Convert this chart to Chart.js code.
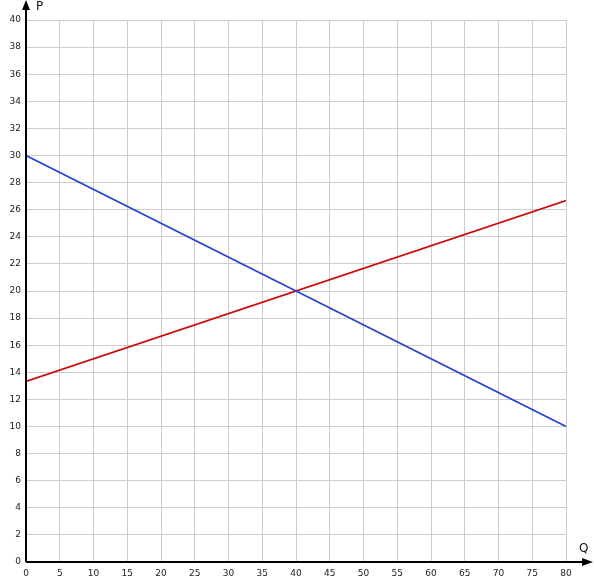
<!DOCTYPE html>
<html>
<head>
<meta charset="UTF-8">
<title>P-Q</title>
<script src="https://cdn.jsdelivr.net/npm/chart.js"></script>
<style>
    body { margin: 0; background: #fff; }
</style>
</head>
<body>
<canvas id="chart" width="594" height="585"></canvas>
<script>
    // endpoints of both lines, Q on x
    const qValues = [0, 80];
    const demandP = [30, 10];
    const supplyP = [13.33, 26.67];
    const xTicks = { min: 0, max: 80, step: 5 };
    const yTicks = { min: 0, max: 40, step: 2 };

    function pts(ys)
    {
        return qValues.map((q, i) => ({ x: q, y: ys[i] }));
    }

    const axesArrows = {
        id: 'axesArrows',
        afterDraw(chart)
        {
            const ctx = chart.ctx;
            const a = chart.chartArea;
            const x0 = a.left, y0 = a.bottom;
            ctx.save();
            ctx.strokeStyle = '#000';
            ctx.fillStyle = '#000';
            ctx.lineWidth = 2;
            ctx.beginPath();
            ctx.moveTo(x0, y0);
            ctx.lineTo(x0, 6);
            ctx.moveTo(x0, y0);
            ctx.lineTo(586, y0);
            ctx.stroke();
            // arrow heads
            ctx.beginPath();
            ctx.moveTo(x0, 0);
            ctx.lineTo(x0 - 4, 10);
            ctx.lineTo(x0 + 4, 10);
            ctx.closePath();
            ctx.fill();
            ctx.beginPath();
            ctx.moveTo(593, y0);
            ctx.lineTo(582, y0 - 4);
            ctx.lineTo(582, y0 + 4);
            ctx.closePath();
            ctx.fill();
            ctx.font = '12px "DejaVu Sans"';
            ctx.fillStyle = '#111';
            ctx.textBaseline = 'middle';
            ctx.fillText('P', 36, 7);
            ctx.fillText('Q', 579, 549);
            ctx.restore();
        }
    };

    const tickFont = { family: '"DejaVu Sans"', size: 9 };

    new Chart(document.getElementById('chart').getContext('2d'),
    {
        type: 'line',
        data:
        {
            datasets:
            [
                { data: pts(demandP), borderColor: '#2446d0', borderWidth: 1.6, pointRadius: 0 },
                { data: pts(supplyP), borderColor: '#cc0a0a', borderWidth: 1.6, pointRadius: 0 }
            ]
        },
        options:
        {
            responsive: false,
            animation: false,
            layout: { padding: { left: 0, top: 20, right: 28, bottom: 0 } },
            plugins: { legend: { display: false }, tooltip: { enabled: false } },
            scales:
            {
                x:
                {
                    type: 'linear',
                    min: xTicks.min, max: xTicks.max,
                    afterFit(s) { s.height = 23; },
                    ticks: { stepSize: xTicks.step, color: '#222', font: tickFont, padding: 6, maxRotation: 0 },
                    grid: { color: '#cccccc', tickLength: 0 },
                    border: { display: false }
                },
                y:
                {
                    min: yTicks.min, max: yTicks.max,
                    afterFit(s) { s.width = 26; },
                    ticks: { stepSize: yTicks.step, color: '#222', font: tickFont, padding: 5 },
                    grid: { color: '#cccccc', tickLength: 0 },
                    border: { display: false }
                }
            }
        },
        plugins: [axesArrows]
    });
</script>
</body>
</html>
